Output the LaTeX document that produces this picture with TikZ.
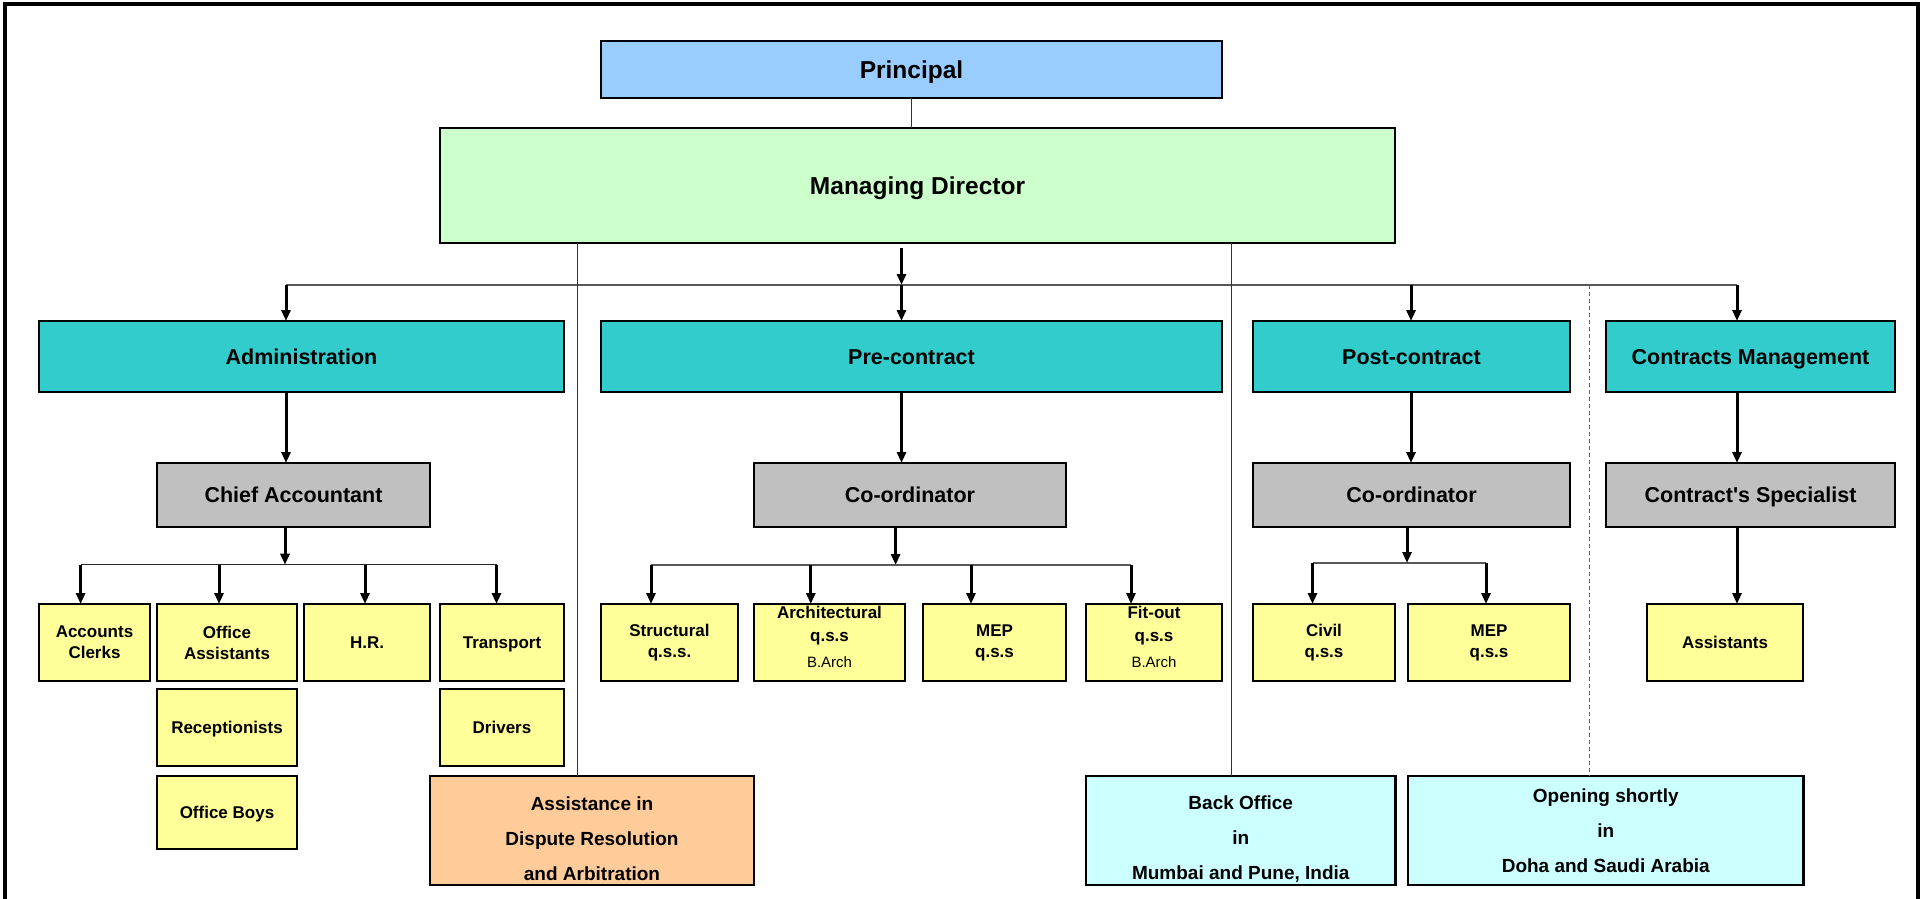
\documentclass[tikz,border=0pt]{standalone}
\usepackage{fontspec}
\setmainfont{Liberation Sans}
\usetikzlibrary{arrows.meta}

\definecolor{prinblue}{HTML}{99CCFF}
\definecolor{mdgreen}{HTML}{CCFFCC}
\definecolor{deptteal}{HTML}{33CCCC}
\definecolor{leadgray}{HTML}{C0C0C0}
\definecolor{staffyellow}{HTML}{FFFF99}
\definecolor{arbpeach}{HTML}{FFCC99}
\definecolor{officecyan}{HTML}{CCFFFF}

\begin{document}
\begin{tikzpicture}[x=1pt, y=-1pt, >={Triangle[length=11pt,width=9pt]},
	box/.style={draw, line width=2.5pt, inner sep=0pt, outer sep=0pt, align=center},
	head/.style={box, text height=17.5pt, text depth=0pt, font=\bfseries\fontsize{24.5}{29}\selectfont},
	dept/.style={box, fill=deptteal, minimum height=71pt, text height=15.4pt, text depth=0pt, font=\bfseries\fontsize{21.5}{26}\selectfont},
	lead/.style={box, fill=leadgray, minimum height=64pt, text height=15.4pt, text depth=0pt, font=\bfseries\fontsize{21.5}{26}\selectfont},
	staff/.style={box, fill=staffyellow, minimum height=77pt, font=\bfseries\fontsize{17}{21}\selectfont},
	oneline/.style={text height=12.2pt, text depth=0pt},
	office/.style={box, minimum height=109pt, font=\bfseries\fontsize{19}{35}\selectfont},
	arr/.style={->, line width=3pt},
	bus/.style={line width=1.5pt, draw=black!65},
	link/.style={line width=1pt, draw=black!80}]
	\useasboundingbox (0,0) rectangle (1921,898);
	\draw[line width=4pt] (5,4) rectangle (1918,910);

	% top
	\node[head, fill=prinblue, minimum width=621pt, minimum height=57pt] (prin) at (911.5,69.5) {Principal};
	\node[head, fill=mdgreen, minimum width=955pt, minimum height=115pt] (md) at (917.5,185.5) {Managing Director};

	% departments
	\node[dept, minimum width=525pt] (admin) at (301.5,356.5) {Administration};
	\node[dept, minimum width=621pt] (pre) at (911.5,356.5) {Pre-contract};
	\node[dept, minimum width=317pt] (post) at (1411.5,356.5) {Post-contract};
	\node[dept, minimum width=289pt] (cm) at (1750.5,356.5) {Contracts Management};

	\node[lead, minimum width=273pt] (chief) at (293.5,495) {Chief Accountant};
	\node[lead, minimum width=312pt] (coA) at (910,495) {Co-ordinator};
	\node[lead, minimum width=317pt] (coB) at (1411.5,495) {Co-ordinator};
	\node[lead, minimum width=289pt] (spec) at (1750.5,495) {Contract\textquotesingle s Specialist};

	% staff
	\node[staff, minimum width=111pt] (acc) at (94.5,642.5) {Accounts\\Clerks};
	\node[staff, minimum width=140pt] (offa) at (227,642.5) {Office\\Assistants};
	\node[staff, oneline, minimum width=126pt] (hr) at (367,642.5) {H.R.};
	\node[staff, oneline, minimum width=124pt] (trans) at (502,642.5) {Transport};
	\node[staff, oneline, minimum width=140pt] (recep) at (227,727.5) {Receptionists};
	\node[staff, oneline, minimum width=124pt] (drivers) at (502,727.5) {Drivers};
	\node[staff, oneline, minimum width=140pt, minimum height=73pt] (boys) at (227,812.5) {Office Boys};

	\node[staff, minimum width=137pt] (struct) at (669.5,642.5) {Structural\\q.s.s.};
	\node[staff, minimum width=151pt, font=\bfseries\fontsize{17}{23}\selectfont] (arch) at (829.5,642.5) {Architectural\\q.s.s\\[3pt]{\mdseries\fontsize{15}{18}\selectfont B.Arch}\rule[-12pt]{0pt}{12pt}};
	\node[staff, minimum width=143pt] (mepA) at (994.5,642.5) {MEP\\q.s.s};
	\node[staff, minimum width=136pt, font=\bfseries\fontsize{17}{23}\selectfont] (fit) at (1154,642.5) {Fit-out\\q.s.s\\[3pt]{\mdseries\fontsize{15}{18}\selectfont B.Arch}\rule[-12pt]{0pt}{12pt}};

	\node[staff, minimum width=142pt] (civil) at (1324,642.5) {Civil\\q.s.s};
	\node[staff, minimum width=162pt] (mepB) at (1489,642.5) {MEP\\q.s.s};
	\node[staff, oneline, minimum width=156pt] (asst) at (1725,642.5) {Assistants};

	% offices
	\node[office, fill=arbpeach, minimum width=324pt] (arb) at (592,830.5) {\rule{0pt}{30pt}Assistance in\\Dispute Resolution\\and Arbitration};
	\node[office, fill=officecyan, minimum width=309.5pt] (back) at (1240.75,830.5) {\rule{0pt}{30pt}Back Office\\in\\Mumbai and Pune, India};
	\node[office, fill=officecyan, minimum width=395.5pt] (open) at (1605.75,830.5) {Opening shortly\\in\\Doha and Saudi Arabia};

	% top links
	\draw[link] (prin.south) -- (prin.south |- md.north);
	\coordinate (mdout) at (901.5,248);
	\coordinate (busL) at (286,285);
	\coordinate (bPost) at (1411,285);
	\coordinate (busR) at (1737,285);
	\draw[bus] (busL) -- (busR);
	\draw[arr] (mdout) -- (mdout |- busL);
	\draw[arr] (busL) -- (busL |- admin.north);
	\draw[arr] (mdout |- busL) -- (mdout |- pre.north);
	\draw[arr] (bPost) -- (bPost |- post.north);
	\draw[arr] (busR) -- (busR |- cm.north);

	\coordinate (dlL) at (577.6,243);
	\coordinate (dlR) at (1231,243);
	\coordinate (dash) at (1589,285);
	\draw[link] (dlL) -- (dlL |- arb.north);
	\draw[link] (dlR) -- (dlR |- back.north);
	\draw[link, draw=black!60, dash pattern=on 4pt off 3pt] (dash) -- (dash |- open.north);

	% departments to leads
	\draw[arr] (admin.south -| busL) -- (chief.north -| busL);
	\draw[arr] (pre.south -| mdout) -- (coA.north -| mdout);
	\draw[arr] (post.south -| bPost) -- (coB.north -| bPost);
	\draw[arr] (cm.south -| busR) -- (spec.north -| busR);
	\draw[arr] (spec.south -| busR) -- (asst.north -| busR);

	% chief accountant
	\coordinate (cA) at (285,564.7);
	\coordinate (accIn) at (80.6,564.7);
	\coordinate (offaIn) at (219,564.7);
	\coordinate (hrIn) at (365,564.7);
	\coordinate (transIn) at (496.5,564.7);
	\draw[bus, draw=black!85] (accIn) -- (transIn);
	\draw[arr] (chief.south -| cA) -- (cA);
	\draw[arr] (accIn) -- (accIn |- acc.north);
	\draw[arr] (offaIn) -- (offaIn |- offa.north);
	\draw[arr] (hrIn) -- (hrIn |- hr.north);
	\draw[arr] (transIn) -- (transIn |- trans.north);

	% pre-contract co-ordinator
	\coordinate (cB) at (895.6,565);
	\coordinate (structIn) at (651,565);
	\coordinate (archIn) at (810.8,565);
	\coordinate (mepAIn) at (971,565);
	\coordinate (fitIn) at (1131,565);
	\draw[bus] (structIn) -- (fitIn);
	\draw[arr] (coA.south -| cB) -- (cB);
	\draw[arr] (structIn) -- (structIn |- struct.north);
	\draw[arr] (archIn) -- (archIn |- arch.north);
	\draw[arr] (mepAIn) -- (mepAIn |- mepA.north);
	\draw[arr] (fitIn) -- (fitIn |- fit.north);

	% post-contract co-ordinator
	\coordinate (cC) at (1407,563);
	\coordinate (civilIn) at (1312.5,563);
	\coordinate (mepBIn) at (1486,563);
	\draw[bus] (civilIn) -- (mepBIn);
	\draw[arr] (coB.south -| cC) -- (cC);
	\draw[arr] (civilIn) -- (civilIn |- civil.north);
	\draw[arr] (mepBIn) -- (mepBIn |- mepB.north);
\end{tikzpicture}
\end{document}
